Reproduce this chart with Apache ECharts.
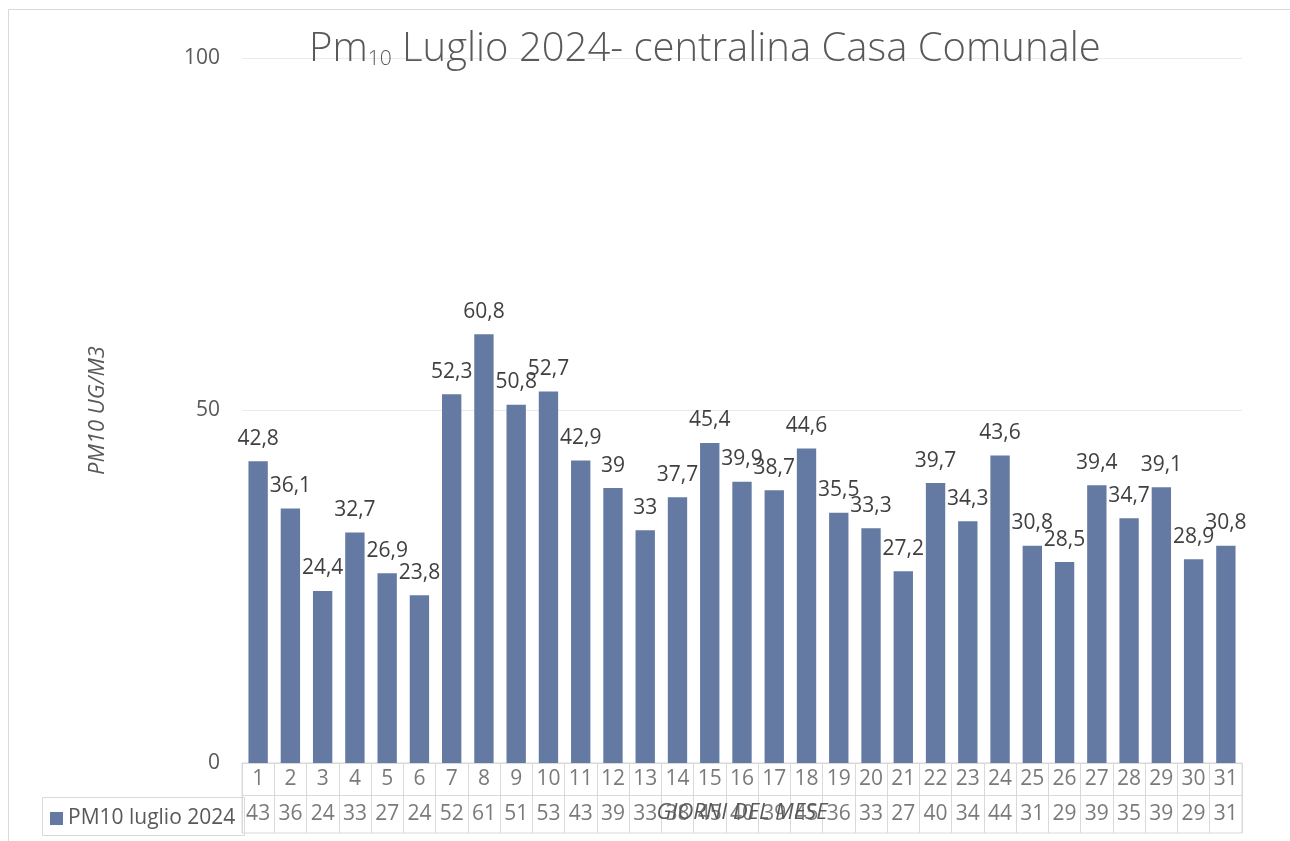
<!DOCTYPE html>
<html><head><meta charset="utf-8">
<script src="https://cdn.jsdelivr.net/npm/echarts@6/dist/echarts.min.js"></script>
<style>html,body{margin:0;padding:0;background:#fff}#c{width:1290px;height:841px}</style>
</head><body><div id="c"></div>
<script>
const days = ['1','2','3','4','5','6','7','8','9','10','11','12','13','14','15','16','17','18','19','20','21','22','23','24','25','26','27','28','29','30','31'];
const pm10 = [42.8,36.1,24.4,32.7,26.9,23.8,52.3,60.8,50.8,52.7,42.9,39,33,37.7,45.4,39.9,38.7,44.6,35.5,33.3,27.2,39.7,34.3,43.6,30.8,28.5,39.4,34.7,39.1,28.9,30.8];
const tableValues = [43,36,24,33,27,24,52,61,51,53,43,39,33,38,45,40,39,45,36,33,27,40,34,44,31,29,39,35,39,29,31];
const yTicks = [0,50,100];
const seriesName = 'PM10 luglio 2024';
const titleMain = 'Pm';
const titleSub = '10';
const titleRest = ' Luglio 2024- centralina Casa Comunale';
const yName = 'PM10 UG/M3';
const xName = 'GIORNI DEL MESE';

const FONT = 'Open Sans';
const TXT = '#595959';
const BORDER = '#d9d9d9';
const BAR = '#657aa2';

const chart = echarts.init(document.getElementById('c'));
chart.setOption({
  animation:false,
  textStyle:{fontFamily:FONT},
  title:{
    left:304, top:16,
    text:'{a|'+titleMain+'}{s|'+titleSub+'}{a|'+titleRest+'}',
    textStyle:{rich:{
      a:{fontFamily:FONT,fontSize:40,fontWeight:300,color:TXT,verticalAlign:'bottom',lineHeight:49},
      s:{fontFamily:FONT,fontSize:21,fontWeight:300,color:TXT,verticalAlign:'bottom',lineHeight:41}
    }}
  },
  legend:{
    left:45, top:803, itemWidth:13, itemHeight:13, itemGap:5, icon:'rect',
    textStyle:{fontFamily:FONT,fontSize:21,color:TXT},
    data:[seriesName]
  },
  graphic:[
    {type:'rect',left:6,top:7,shape:{width:1300,height:900},style:{fill:'none',stroke:BORDER,lineWidth:1},silent:true},
    {type:'rect',left:40,top:795,shape:{width:202,height:38},style:{fill:'none',stroke:BORDER,lineWidth:1},silent:true}
  ],
  grid:[
    {left:242,right:48,top:58,height:705},
    {left:242,right:48,top:763,height:70,show:true,borderColor:BORDER,borderWidth:1}
  ],
  xAxis:[
    {type:'category',gridIndex:0,data:days,axisLine:{show:true,lineStyle:{color:BORDER}},axisTick:{show:false},axisLabel:{show:false},
     name:xName,nameLocation:'middle',nameGap:39,nameTextStyle:{fontFamily:FONT,fontSize:22,fontStyle:'italic',color:TXT}},
    {type:'category',gridIndex:1,data:days,axisLine:{show:false},axisTick:{show:false},axisLabel:{show:false},
     splitLine:{show:true,lineStyle:{color:BORDER,width:1}}}
  ],
  yAxis:[
    {type:'value',gridIndex:0,min:0,max:100,interval:50,
     axisLine:{show:false},axisTick:{show:false},
     axisLabel:{fontFamily:FONT,fontSize:21,color:TXT,margin:22},
     splitLine:{lineStyle:{color:'#ebebeb',width:1}},
     name:yName,nameLocation:'middle',nameGap:133,nameRotate:90,
     nameTextStyle:{fontFamily:FONT,fontSize:22,fontStyle:'italic',color:TXT}},
    {type:'value',gridIndex:1,min:0,max:70,inverse:true,show:false}
  ],
  series:[
    {name:seriesName,type:'bar',xAxisIndex:0,yAxisIndex:0,data:pm10,barCategoryGap:'40%',
     itemStyle:{color:BAR},
     label:{show:true,position:'top',distance:12,fontFamily:FONT,fontSize:21,color:'#404040',
       formatter:p=>String(p.value).replace('.',',')}},
    {type:'scatter',xAxisIndex:1,yAxisIndex:1,symbolSize:0,silent:true,
     data:days.map((d,i)=>[i,16]),
     label:{show:true,position:'inside',fontFamily:FONT,fontSize:21,color:TXT,formatter:p=>days[p.dataIndex]},
     markLine:{silent:true,symbol:'none',label:{show:false},lineStyle:{color:BORDER,type:'solid',width:1},data:[{yAxis:32}]}},
    {type:'scatter',xAxisIndex:1,yAxisIndex:1,symbolSize:0,silent:true,
     data:tableValues.map((v,i)=>[i,51]),
     label:{show:true,position:'inside',fontFamily:FONT,fontSize:21,color:TXT,formatter:p=>String(tableValues[p.dataIndex])}}
  ]
});
</script></body></html>
